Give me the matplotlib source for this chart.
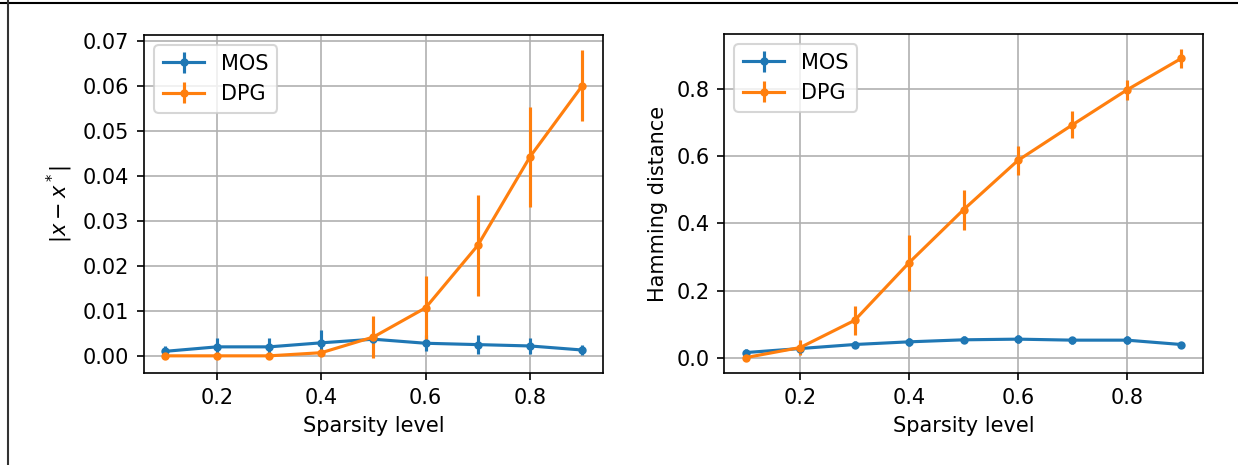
import matplotlib
matplotlib.use("Agg")
import matplotlib.pyplot as plt
from matplotlib.lines import Line2D

sparsity = [0.1, 0.2, 0.3, 0.4, 0.5, 0.6, 0.7, 0.8, 0.9]

# Left panel: |x - x*|
mos_err_mean = [0.0010, 0.0020, 0.0020, 0.0029, 0.0037, 0.0028, 0.0025, 0.0022, 0.0013]
mos_err_std = [0.0012, 0.0020, 0.0020, 0.0028, 0.0010, 0.0018, 0.0022, 0.0017, 0.0012]
dpg_err_mean = [0.0000, 0.0000, 0.0000, 0.0007, 0.0042, 0.0107, 0.0246, 0.0443, 0.0601]
dpg_err_std = [0.0002, 0.0002, 0.0002, 0.0005, 0.0046, 0.0071, 0.0112, 0.0111, 0.0079]

# Right panel: Hamming distance
mos_ham_mean = [0.015, 0.027, 0.039, 0.047, 0.053, 0.055, 0.052, 0.052, 0.039]
mos_ham_std = [0.010, 0.010, 0.010, 0.012, 0.010, 0.012, 0.010, 0.012, 0.008]
dpg_ham_mean = [0.000, 0.030, 0.111, 0.283, 0.441, 0.588, 0.694, 0.798, 0.892]
dpg_ham_std = [0.000, 0.022, 0.043, 0.084, 0.060, 0.044, 0.040, 0.030, 0.027]

DPI = 150
W, H = 1238, 465
fig = plt.figure(figsize=(W / DPI, H / DPI), dpi=DPI)
ax1 = fig.add_axes([144 / W, 1 - 373 / H, (603 - 144) / W, (373 - 35) / H])
ax2 = fig.add_axes([724 / W, 1 - 373 / H, (1203 - 724) / W, (373 - 34) / H])

ax1.errorbar(sparsity, mos_err_mean, yerr=mos_err_std, fmt='.-', label='MOS')
ax1.errorbar(sparsity, dpg_err_mean, yerr=dpg_err_std, fmt='.-', label='DPG')
ax1.set_xlabel('Sparsity level')
ax1.set_ylabel(r'$|x - x^*|$')
ax1.grid(True)
ax1.legend(loc='upper left')

ax2.errorbar(sparsity, mos_ham_mean, yerr=mos_ham_std, fmt='.-', label='MOS')
ax2.errorbar(sparsity, dpg_ham_mean, yerr=dpg_ham_std, fmt='.-', label='DPG')
ax2.set_xlabel('Sparsity level')
ax2.set_ylabel('Hamming distance')
ax2.grid(True)
ax2.legend(loc='upper left')

for ax in (ax1, ax2):
    ax.set_xticks([0.2, 0.4, 0.6, 0.8])

# screenshot border (top and left)
fig.add_artist(Line2D([0, 1], [1 - 2.5 / H, 1 - 2.5 / H], color='black', lw=1.0, transform=fig.transFigure))
fig.add_artist(Line2D([7.5 / W, 7.5 / W], [0, 1], color='#333333', lw=1.0, transform=fig.transFigure))

fig.savefig('out.png', dpi=DPI)
